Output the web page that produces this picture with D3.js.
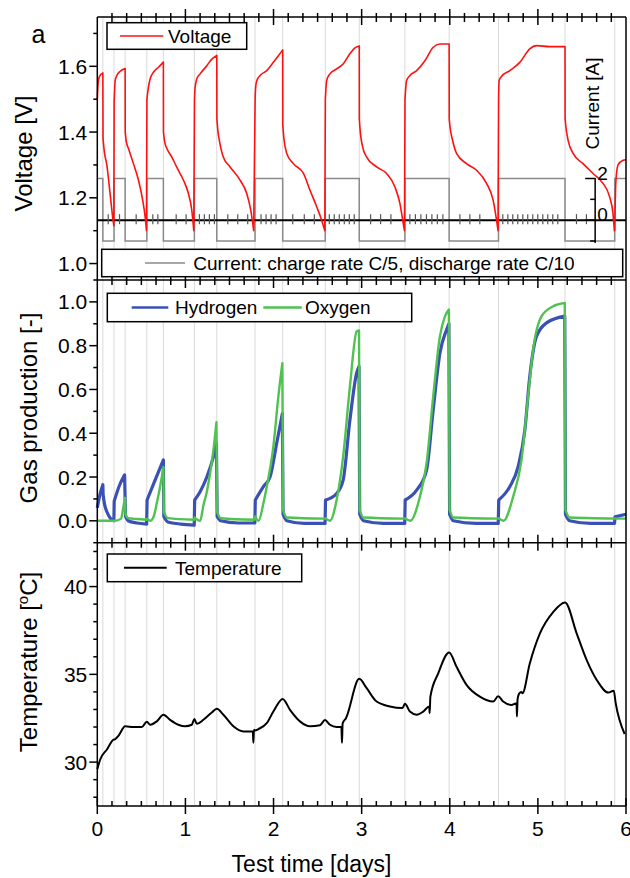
<!DOCTYPE html>
<html><head><meta charset="utf-8">
<script src="https://cdn.jsdelivr.net/npm/d3@7"></script>
<style>
body{margin:0;background:#fff}
svg text{font-family:"Liberation Sans",Arial,Helvetica,sans-serif;fill:#000}
</style>
</head><body>
<svg id="c" width="630" height="878"></svg>
<script>
// ---------------- DATA ----------------
// switching times [days] between charge (+2 A) and discharge (-1 A)
const switchTimes = [0, 0.063, 0.19, 0.316, 0.562, 0.75, 1.102, 1.356, 1.79, 2.104, 2.587, 2.973, 3.491, 3.993, 4.553, 5.308, 5.872];
const currentValues = [2, -1, 2, -1, 2, -1, 2, -1, 2, -1, 2, -1, 2, -1, 2, -1, 2];

// voltage [V], one continuous piece per charge / discharge step: [day, V]
const voltage = [
  [[0,1.50],[0.008,1.545],[0.02,1.566],[0.04,1.575],[0.063,1.58]],
  [[0.065,1.38],[0.08,1.34],[0.108,1.30],[0.146,1.21],[0.175,1.14],[0.188,1.115]],
  [[0.191,1.49],[0.203,1.557],[0.222,1.572],[0.26,1.585],[0.316,1.593]],
  [[0.317,1.40],[0.33,1.37],[0.354,1.35],[0.41,1.304],[0.467,1.254],[0.517,1.19],[0.543,1.142],[0.558,1.10]],
  [[0.563,1.50],[0.58,1.536],[0.6,1.562],[0.637,1.582],[0.694,1.597],[0.75,1.613]],
  [[0.751,1.40],[0.765,1.37],[0.79,1.35],[0.846,1.324],[0.9,1.294],[0.977,1.254],[1.034,1.213],[1.072,1.163],[1.095,1.10]],
  [[1.103,1.50],[1.11,1.536],[1.13,1.562],[1.167,1.577],[1.243,1.602],[1.3,1.622],[1.356,1.633]],
  [[1.357,1.44],[1.37,1.40],[1.385,1.375],[1.43,1.324],[1.507,1.294],[1.62,1.254],[1.696,1.213],[1.741,1.163],[1.775,1.10]],
  [[1.791,1.50],[1.797,1.536],[1.81,1.557],[1.847,1.572],[1.923,1.587],[1.998,1.612],[2.055,1.632],[2.104,1.65]],
  [[2.105,1.42],[2.12,1.375],[2.15,1.335],[2.225,1.304],[2.34,1.274],[2.414,1.223],[2.49,1.173],[2.546,1.132],[2.582,1.10]],
  [[2.588,1.50],[2.603,1.557],[2.64,1.577],[2.716,1.592],[2.79,1.607],[2.867,1.638],[2.924,1.656],[2.973,1.662]],
  [[2.974,1.44],[2.98,1.415],[3.011,1.355],[3.057,1.324],[3.17,1.294],[3.283,1.274],[3.378,1.233],[3.434,1.183],[3.472,1.122],[3.486,1.10]],
  [[3.492,1.50],[3.51,1.557],[3.548,1.572],[3.624,1.587],[3.718,1.617],[3.812,1.658],[3.888,1.668],[3.993,1.668]],
  [[3.994,1.44],[4.001,1.42],[4.032,1.375],[4.077,1.335],[4.19,1.304],[4.304,1.284],[4.417,1.244],[4.492,1.193],[4.531,1.132],[4.548,1.10]],
  [[4.554,1.50],[4.56,1.557],[4.587,1.569],[4.681,1.587],[4.795,1.612],[4.908,1.653],[4.984,1.663],[5.135,1.66],[5.308,1.66]],
  [[5.309,1.44],[5.316,1.42],[5.343,1.375],[5.4,1.335],[5.512,1.304],[5.626,1.274],[5.739,1.244],[5.814,1.203],[5.852,1.153],[5.868,1.10]],
  [[5.872,1.10],[5.885,1.25],[5.91,1.30],[5.967,1.314],[6.0,1.316]]
];

// gas production [-]: [day, value]
const hydrogen = [
  [[0,0.06],[0.03,0.12],[0.063,0.165]],
  [[0.066,0.12],[0.08,0.08],[0.11,0.04],[0.15,0.01],[0.188,0.0]],
  [[0.192,0.09],[0.25,0.16],[0.31,0.21]],
  [[0.32,0.02],[0.35,0.0],[0.45,-0.01],[0.56,-0.015]],
  [[0.565,0.095],[0.65,0.18],[0.75,0.278]],
  [[0.755,0.02],[0.8,-0.005],[0.95,-0.015],[1.1,-0.02]],
  [[1.105,0.095],[1.167,0.133],[1.243,0.2],[1.318,0.293],[1.352,0.354]],
  [[1.36,0.02],[1.4,0.0],[1.6,-0.01],[1.788,-0.01]],
  [[1.793,0.095],[1.885,0.156],[1.96,0.2],[2.036,0.354],[2.1,0.49]],
  [[2.108,0.03],[2.15,0.0],[2.35,-0.012],[2.585,-0.012]],
  [[2.59,0.095],[2.716,0.125],[2.79,0.186],[2.867,0.461],[2.943,0.675],[2.97,0.705]],
  [[2.978,0.03],[3.02,0.0],[3.25,-0.012],[3.489,-0.012]],
  [[3.494,0.095],[3.624,0.14],[3.737,0.232],[3.812,0.507],[3.888,0.766],[3.964,0.873],[3.99,0.9]],
  [[3.998,0.03],[4.04,0.0],[4.3,-0.012],[4.55,-0.012]],
  [[4.556,0.095],[4.681,0.156],[4.776,0.247],[4.852,0.415],[4.908,0.66],[4.984,0.842],[5.098,0.904],[5.305,0.935]],
  [[5.313,0.03],[5.36,0.0],[5.6,-0.012],[5.87,-0.012]],
  [[5.875,0.018],[6.0,0.03]]
];
const oxygen = [
  [[0,0.0],[0.2,0.0],[0.27,0.01],[0.29,0.05],[0.314,0.105]],
  [[0.32,0.03],[0.35,0.012],[0.45,0.008],[0.56,0.005]],
  [[0.565,0.01],[0.6,0.0],[0.64,0.02],[0.675,0.08],[0.732,0.2],[0.75,0.246]],
  [[0.755,0.04],[0.8,0.012],[1.1,0.005]],
  [[1.105,0.015],[1.167,0.0],[1.205,0.072],[1.243,0.133],[1.28,0.217],[1.318,0.324],[1.352,0.45]],
  [[1.36,0.04],[1.4,0.012],[1.788,0.005]],
  [[1.793,0.02],[1.83,0.0],[1.885,0.08],[1.923,0.156],[1.998,0.339],[2.055,0.568],[2.1,0.72]],
  [[2.108,0.05],[2.15,0.015],[2.585,0.01]],
  [[2.59,0.012],[2.64,0.0],[2.716,0.095],[2.79,0.293],[2.867,0.614],[2.943,0.865],[2.97,0.87]],
  [[2.978,0.05],[3.02,0.015],[3.489,0.01]],
  [[3.494,0.012],[3.55,0.0],[3.661,0.11],[3.737,0.263],[3.812,0.568],[3.888,0.842],[3.945,0.934],[3.99,0.965]],
  [[3.998,0.05],[4.04,0.015],[4.55,0.01]],
  [[4.556,0.012],[4.61,0.0],[4.719,0.11],[4.814,0.278],[4.889,0.568],[4.946,0.782],[5.041,0.934],[5.173,0.98],[5.305,0.995]],
  [[5.313,0.05],[5.36,0.015],[6.0,0.01]]
];

// temperature [°C]: [day, value]
const temperature = [[0,29.6],[0.033,30.15],[0.109,30.72],[0.184,31.28],[0.2,31.3],[0.24,31.5],[0.316,32.04],[0.41,32.0],[0.505,32.0],[0.562,32.3],[0.6,32.13],[0.675,32.32],[0.75,32.7],[0.826,32.41],[0.92,32.13],[0.996,32.04],[1.072,32.13],[1.102,32.45],[1.13,32.18],[1.204,32.41],[1.3,32.83],[1.356,33.04],[1.431,32.7],[1.544,32.04],[1.658,31.75],[1.765,31.75],[1.771,31.1],[1.778,31.85],[1.79,31.8],[1.828,31.88],[1.923,32.22],[1.998,32.88],[2.104,33.6],[2.187,32.98],[2.3,32.32],[2.414,32.04],[2.527,32.1],[2.584,32.4],[2.64,32.13],[2.716,32.0],[2.77,32.0],[2.777,31.1],[2.784,32.2],[2.822,32.5],[2.973,34.75],[3.057,34.21],[3.17,33.45],[3.321,33.17],[3.464,33.08],[3.491,33.32],[3.548,32.88],[3.624,32.7],[3.699,32.88],[3.767,33.17],[3.772,32.79],[3.78,33.73],[3.869,35.06],[3.993,36.25],[4.077,35.43],[4.19,34.4],[4.341,33.73],[4.492,33.45],[4.549,33.75],[4.606,33.45],[4.7,33.26],[4.758,33.36],[4.762,32.6],[4.77,33.6],[4.787,33.9],[4.814,34.0],[4.825,33.92],[4.908,35.62],[5.022,37.32],[5.173,38.55],[5.308,39.1],[5.441,37.32],[5.554,35.81],[5.668,34.68],[5.8,33.96],[5.861,34.07],[5.883,33.36],[5.985,31.6]];

// ticks on the current zero line [days]
const zeroLineTicks = [0.124,0.252,0.441,0.630,0.687,0.895,1.008,1.159,1.215,1.272,1.329,1.481,1.594,1.707,1.858,1.915,1.972,2.029,2.218,2.349,2.463,2.633,2.689,2.746,2.803,2.860,2.916,3.102,3.215,3.332,3.547,3.610,3.672,3.735,3.797,3.859,3.922,4.115,4.228,4.341,4.602,4.659,4.715,4.772,4.829,4.885,4.942,4.999,5.056,5.112,5.169,5.226,5.438,5.551];

// axis ticks
const xMajor = [0,1,2,3,4,5,6];
const xMinor = d3.range(0,37).map(k=>k/6).filter(v=>Math.abs(v-Math.round(v))>1e-6);
const vMajor = [1.0,1.2,1.4,1.6], vMinor = [1.1,1.3,1.5,1.7];
const gMajor = [0,0.2,0.4,0.6,0.8,1.0], gMinor = [-0.1,0.1,0.3,0.5,0.7,0.9,1.1];
const tMajor = [30,35,40], tMinor = [28,29,31,32,33,34,36,37,38,39,41,42];
const iMajor = [0,2], iMinor = [-1,1];
const currentAxisDay = 5.65;

// ---------------- LAYOUT ----------------
const svg = d3.select('#c');
const XL = 97.3, XR = 626;
const P1 = [17,280], P2 = [280,542.7], P3 = [542.7,806];
const C = {red:'#ff1010', blue:'#3a50b4', green:'#4fc24f', gray:'#8a8a8a', grid:'#dadada'};

const x = d3.scaleLinear().domain([0,6]).range([XL,XR]);
const yV = d3.scaleLinear().domain([0.95,1.75]).range([P1[1],P1[0]]);
const yI = d3.scaleLinear().domain([-1,2]).range([241,178.5]);
const yG = d3.scaleLinear().domain([-0.1,1.1]).range([P2[1],P2[0]]);
const yT = d3.scaleLinear().domain([27.5,42.5]).range([P3[1],P3[0]]);

function segPath(segs, ys, curve){
  const ln = d3.line().x(d=>x(d[0])).y(d=>ys(d[1])).curve(curve);
  return segs.map((s,i)=>{const p = ln(s); return i ? 'L'+p.slice(1) : p;}).join('');
}

// vertical grid lines at switching times
svg.append('g').selectAll('line').data(switchTimes.slice(1)).join('line')
  .attr('x1',d=>x(d)).attr('x2',d=>x(d)).attr('y1',P1[0]).attr('y2',P3[1])
  .attr('stroke',C.grid).attr('stroke-width',1);

// ---- panel 1 ----
const curPts = switchTimes.map((t,i)=>[t,currentValues[i]]).concat([[6,currentValues[currentValues.length-1]]]);
svg.append('path').attr('d', d3.line().x(d=>x(d[0])).y(d=>yI(d[1])).curve(d3.curveStepAfter)(curPts))
  .attr('fill','none').attr('stroke',C.gray).attr('stroke-width',1.5);

// zero line of current with its ticks
svg.append('line').attr('x1',XL).attr('x2',XR).attr('y1',yI(0)).attr('y2',yI(0))
  .attr('stroke','#000').attr('stroke-width',2);
svg.append('g').selectAll('line').data(zeroLineTicks).join('line')
  .attr('x1',d=>x(d)).attr('x2',d=>x(d)).attr('y1',yI(0)-6).attr('y2',yI(0)+4)
  .attr('stroke','#555').attr('stroke-width',1.2);

svg.append('path').attr('d', segPath(voltage, yV, d3.curveMonotoneX))
  .attr('fill','none').attr('stroke',C.red).attr('stroke-width',1.6).attr('stroke-linejoin','round');

// current axis
const ca = svg.append('g');
ca.append('line').attr('x1',x(currentAxisDay)).attr('x2',x(currentAxisDay)).attr('y1',yI(2)-0.5).attr('y2',yI(-1)+2)
  .attr('stroke','#000').attr('stroke-width',1.5);
ca.selectAll('.mj').data(iMajor).join('line').attr('class','mj')
  .attr('x1',x(currentAxisDay)-10).attr('x2',x(currentAxisDay)).attr('y1',d=>yI(d)).attr('y2',d=>yI(d))
  .attr('stroke','#000').attr('stroke-width',1.5);
ca.selectAll('.mn').data(iMinor).join('line').attr('class','mn')
  .attr('x1',x(currentAxisDay)-5).attr('x2',x(currentAxisDay)).attr('y1',d=>yI(d)).attr('y2',d=>yI(d))
  .attr('stroke','#000').attr('stroke-width',1.5);
ca.selectAll('text').data(iMajor).join('text')
  .attr('x',x(currentAxisDay)+2).attr('y',d=>yI(d)+1).attr('font-size',19).text(d=>d);
svg.append('text').attr('transform',`translate(599,103.5) rotate(-90)`).attr('text-anchor','middle')
  .attr('font-size',19).text('Current [A]');

// ---- panel 2 ----
svg.append('path').attr('d', segPath(hydrogen, yG, d3.curveMonotoneX))
  .attr('fill','none').attr('stroke',C.blue).attr('stroke-width',3.2).attr('stroke-linejoin','round');
svg.append('path').attr('d', segPath(oxygen, yG, d3.curveMonotoneX))
  .attr('fill','none').attr('stroke',C.green).attr('stroke-width',2.4).attr('stroke-linejoin','round');

// ---- panel 3 ----
svg.append('path').attr('d', d3.line().x(d=>x(d[0])).y(d=>yT(d[1])).curve(d3.curveMonotoneX)(temperature))
  .attr('fill','none').attr('stroke','#000').attr('stroke-width',2).attr('stroke-linejoin','round');

// ---------------- FRAMES & AXES ----------------
const frame = svg.append('g').attr('stroke','#000').attr('stroke-width',1.5);
[P1[0],P2[0],P3[0],P3[1]].forEach(y=>frame.append('line').attr('x1',XL).attr('x2',XR).attr('y1',y).attr('y2',y));
frame.append('line').attr('x1',XL).attr('x2',XL).attr('y1',P1[0]).attr('y2',P3[1]);
frame.append('line').attr('x1',XR).attr('x2',XR).attr('y1',P1[0]).attr('y2',P3[1]);

function xTickRow(y, up, down, vals){
  svg.append('g').selectAll('line').data(vals).join('line')
    .attr('x1',d=>x(d)).attr('x2',d=>x(d)).attr('y1',y-up).attr('y2',y+down)
    .attr('stroke','#000').attr('stroke-width',1.5);
}
xTickRow(P1[0],4,5,xMinor); xTickRow(P1[0],8,8,xMajor.slice(1,-1));
xTickRow(P2[0],5,5,xMinor); xTickRow(P2[0],8,8,xMajor.slice(1,-1));
xTickRow(P3[0],5,5,xMinor); xTickRow(P3[0],8,8,xMajor.slice(1,-1));
xTickRow(P3[1],5,0,xMinor); xTickRow(P3[1],8,8,xMajor);

svg.append('g').selectAll('text').data(xMajor).join('text')
  .attr('x',d=>x(d)).attr('y',P3[1]+29.5).attr('text-anchor','middle').attr('font-size',21).text(d=>d);

function leftAxis(scale, major, minor, fmt){
  const g = svg.append('g');
  g.selectAll('.mj').data(major).join('line').attr('class','mj')
    .attr('x1',XL-8).attr('x2',XL).attr('y1',d=>scale(d)).attr('y2',d=>scale(d))
    .attr('stroke','#000').attr('stroke-width',1.5);
  g.selectAll('.mn').data(minor).join('line').attr('class','mn')
    .attr('x1',XL-4).attr('x2',XL).attr('y1',d=>scale(d)).attr('y2',d=>scale(d))
    .attr('stroke','#000').attr('stroke-width',1.5);
  g.selectAll('text').data(major).join('text')
    .attr('x',XL-10).attr('y',d=>scale(d)).attr('dy','0.36em').attr('text-anchor','end')
    .attr('font-size',21).text(fmt);
}
leftAxis(yV, vMajor, vMinor, d3.format('.1f'));
leftAxis(yG, gMajor, gMinor, d3.format('.1f'));
leftAxis(yT, tMajor, tMinor, d3.format('d'));

// axis titles
svg.append('text').attr('transform','translate(32,153.5) rotate(-90)').attr('text-anchor','middle').attr('font-size',24).text('Voltage [V]');
svg.append('text').attr('transform','translate(37,408) rotate(-90)').attr('text-anchor','middle').attr('font-size',24).text('Gas production [-]');
const tt = svg.append('text').attr('transform','translate(37,662) rotate(-90)').attr('text-anchor','middle').attr('font-size',24);
tt.append('tspan').text('Temperature [');
tt.append('tspan').attr('font-size',15).attr('dy',-9).text('o');
tt.append('tspan').attr('dy',9).text('C]');
svg.append('text').attr('x',311.5).attr('y',871.5).attr('text-anchor','middle').attr('font-size',23).text('Test time [days]');
svg.append('text').attr('x',31.5).attr('y',42.7).attr('font-size',25).text('a');

// ---------------- LEGENDS ----------------
function legend(box, items){
  const g = svg.append('g');
  g.append('rect').attr('x',box[0]).attr('y',box[1]).attr('width',box[2]).attr('height',box[3])
    .attr('fill','#fff').attr('stroke','#000').attr('stroke-width',1.5);
  const cy = box[1]+box[3]/2;
  items.forEach(it=>{
    g.append('line').attr('x1',it.x1).attr('x2',it.x2).attr('y1',cy).attr('y2',cy)
      .attr('stroke',it.color).attr('stroke-width',it.w);
    g.append('text').attr('x',it.tx).attr('y',cy+6.8).attr('font-size',19).text(it.label);
  });
}
legend([107,22.7,139.7,26.6],[{x1:120,x2:163.3,tx:168,color:C.red,w:1.6,label:'Voltage'}]);
legend([101.7,249.3,521,27.4],[{x1:145,x2:185,tx:193.3,color:C.gray,w:1.5,label:'Current: charge rate C/5, discharge rate C/10'}]);
legend([107.3,293.3,304.4,28.4],[
  {x1:131.7,x2:168.3,tx:175,color:C.blue,w:2.4,label:'Hydrogen'},
  {x1:263.3,x2:301.7,tx:305,color:C.green,w:2.4,label:'Oxygen'}]);
legend([107.3,554,194.4,27.7],[{x1:124,x2:166.7,tx:175,color:'#000',w:2,label:'Temperature'}]);
</script>
</body></html>
